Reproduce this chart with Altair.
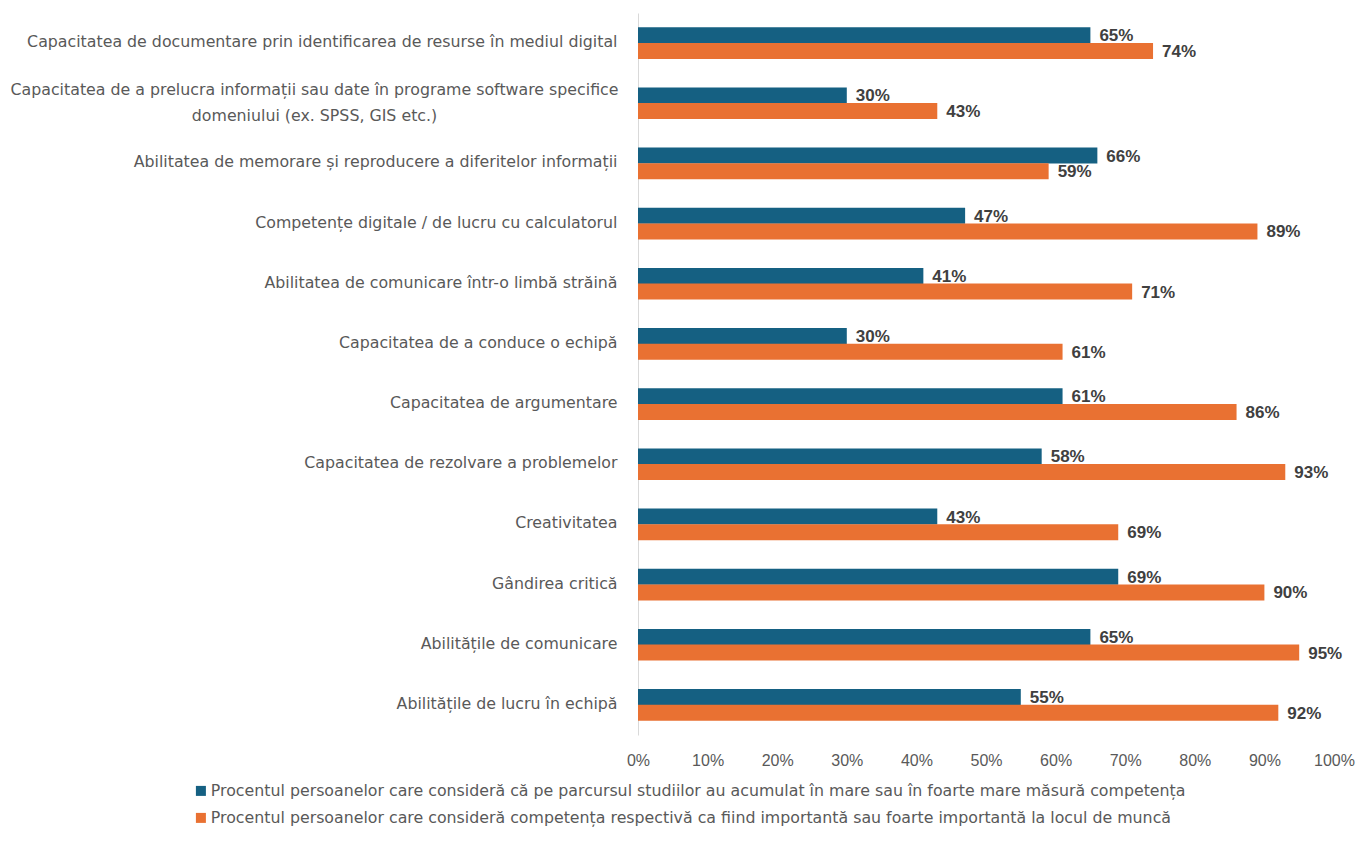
import altair as alt
import pandas as pd

categories = [
    "Capacitatea de documentare prin identificarea de resurse în mediul digital",
    "Capacitatea de a prelucra informații sau date în programe software specifice\ndomeniului (ex. SPSS, GIS etc.)",
    "Abilitatea de memorare și reproducere a diferitelor informații",
    "Competențe digitale / de lucru cu calculatorul",
    "Abilitatea de comunicare într-o limbă străină",
    "Capacitatea de a conduce o echipă",
    "Capacitatea de argumentare",
    "Capacitatea de rezolvare a problemelor",
    "Creativitatea",
    "Gândirea critică",
    "Abilitățile de comunicare",
    "Abilitățile de lucru în echipă",
]
series_names = [
    "Procentul persoanelor care consideră că pe parcursul studiilor au acumulat în mare sau în foarte mare măsură competența",
    "Procentul persoanelor care consideră competența respectivă ca fiind importantă sau foarte importantă la locul de muncă",
]
acumulat = [65, 30, 66, 47, 41, 30, 61, 58, 43, 69, 65, 55]
important = [74, 43, 59, 89, 71, 61, 86, 93, 69, 90, 95, 92]
colors = ["#156082", "#E97132"]
x_ticks = [0, 10, 20, 30, 40, 50, 60, 70, 80, 90, 100]

rows = []
for c, a, b in zip(categories, acumulat, important):
    rows.append({"cat": c, "series": series_names[0], "value": a})
    rows.append({"cat": c, "series": series_names[1], "value": b})
df = pd.DataFrame(rows)

multi = "indexof(datum.value, '\\n') >= 0"

y_enc = alt.Y(
    "cat:N",
    sort=categories,
    title=None,
    scale=alt.Scale(paddingInner=0.48, paddingOuter=0.24),
    axis=alt.Axis(
        labelExpr="split(datum.label, '\\n')",
        labelFont="DejaVu Sans",
        labelFontSize=15.8,
        labelColor="#595959",
        labelLimit=0,
        labelLineHeight=26,
        labelAlign={"condition": {"test": multi, "value": "center"}, "value": "right"},
        labelPadding={"condition": {"test": multi, "value": 324}, "value": 21},
        labelOffset={"condition": {"test": multi, "value": -13}, "value": -1},
        ticks=False,
        domain=True,
        domainColor="#d9d9d9",
        domainWidth=1,
        grid=False,
    ),
)
yoff = alt.YOffset("series:N", sort=series_names, scale=alt.Scale(paddingInner=0, paddingOuter=0))
x_enc = alt.X(
    "value:Q",
    title=None,
    scale=alt.Scale(domain=[0, 100], nice=False),
    axis=alt.Axis(
        values=x_ticks,
        labelExpr="datum.value + '%'",
        labelFont="Liberation Sans",
        labelFontSize=16,
        labelColor="#595959",
        labelPadding=17,
        labelFlush=False,
        ticks=False,
        domain=False,
        grid=False,
    ),
)

bars = alt.Chart(df).mark_bar(size=16).encode(
    y=y_enc,
    yOffset=yoff,
    x=x_enc,
    color=alt.Color(
        "series:N",
        scale=alt.Scale(domain=series_names, range=colors),
        title=None,
        legend=alt.Legend(
            orient="none",
            legendX=-445,
            legendY=770,
            direction="vertical",
            symbolType="square",
            symbolSize=100,
            symbolStrokeWidth=0,
            labelFont="DejaVu Sans",
            labelFontSize=15.8,
            labelColor="#595959",
            labelLimit=0,
            labelOffset=2,
            rowPadding=10,
            padding=0,
        ),
    ),
)

labels = alt.Chart(df).transform_calculate(
    lab="datum.value + '%'"
).mark_text(
    align="left", baseline="middle", dx=9, dy=1,
    font="Liberation Sans", fontSize=17, fontWeight="bold", color="#404040",
).encode(
    y=alt.Y("cat:N", sort=categories),
    yOffset=alt.YOffset("series:N", sort=series_names),
    x=alt.X("value:Q"),
    text="lab:N",
)

chart = alt.layer(bars, labels).properties(
    width=696, height=722,
    background="white",
    autosize=alt.AutoSizeParams(type="none"),
    padding={"left": 630, "top": 5, "right": 22, "bottom": 97},
).configure_view(stroke=None, strokeWidth=0)

chart.save("out.html", embed_options={"renderer": "svg", "actions": False})
